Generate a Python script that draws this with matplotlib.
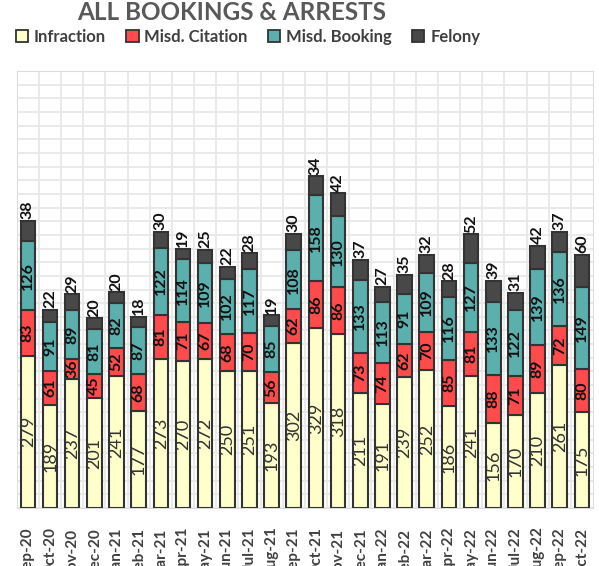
import numpy as np
import matplotlib.pyplot as plt
from matplotlib.patches import Patch

months = ['Sep-20', 'Oct-20', 'Nov-20', 'Dec-20', 'Jan-21', 'Feb-21', 'Mar-21', 'Apr-21',
          'May-21', 'Jun-21', 'Jul-21', 'Aug-21', 'Sep-21', 'Oct-21', 'Nov-21', 'Dec-21',
          'Jan-22', 'Feb-22', 'Mar-22', 'Apr-22', 'May-22', 'Jun-22', 'Jul-22', 'Aug-22',
          'Sep-22', 'Oct-22']
infraction = [279, 189, 237, 201, 241, 177, 273, 270, 272, 250, 251, 193, 302, 329, 318,
              211, 191, 239, 252, 186, 241, 156, 170, 210, 261, 175]
misd_citation = [83, 61, 36, 45, 52, 68, 81, 71, 67, 68, 70, 56, 62, 86, 86, 73, 74, 62,
                 70, 85, 81, 88, 71, 89, 72, 80]
misd_booking = [126, 91, 89, 81, 82, 87, 122, 114, 109, 102, 117, 85, 108, 158, 130, 133,
                113, 91, 109, 116, 127, 133, 122, 139, 136, 149]
felony = [38, 22, 29, 20, 20, 18, 30, 19, 25, 22, 28, 19, 30, 34, 42, 37, 27, 35, 32, 28,
          52, 39, 31, 42, 37, 60]

series = [('Infraction', infraction, '#FFFFCC'),
          ('Misd. Citation', misd_citation, '#FF4B4B'),
          ('Misd. Booking', misd_booking, '#5BAFAC'),
          ('Felony', felony, '#484848')]

plt.rcParams['font.family'] = ['Lato', 'DejaVu Sans']

fig = plt.figure(figsize=(5.99, 5.66), dpi=100)
ax = fig.add_axes([0.028, 0.1025, 0.962, 0.772])

x = np.arange(len(months))
bottom = np.zeros(len(months))
for name, vals, col in series:
    vals = np.array(vals)
    ax.bar(x, vals, 0.66, bottom=bottom, color=col, edgecolor='#333333', linewidth=1.5,
           label=name, zorder=3)
    if name == 'Felony':
        for xi, b, v in zip(x, bottom, vals):
            ax.text(xi, b + v + 3, str(v), rotation=90, ha='center', va='bottom',
                    fontsize=11.5, fontweight='bold', color='#111111', zorder=4)
    elif name == 'Infraction':
        for xi, b, v in zip(x, bottom, vals):
            ax.text(xi, b + v / 2, str(v), rotation=90, ha='center', va='center',
                    fontsize=13, color='#333333', zorder=4)
    else:
        for xi, b, v in zip(x, bottom, vals):
            ax.text(xi, b + v / 2, str(v), rotation=90, ha='center', va='center',
                    fontsize=11.5, fontweight='bold', color='#111111', zorder=4)
    bottom = bottom + vals

ax.set_xlim(-0.5, len(months) - 0.5)
ax.set_ylim(0, 800)
ax.set_yticks(np.arange(0, 801, 25))
ax.set_yticklabels([])
ax.set_xticks(x)
ax.set_xticklabels(months, rotation=90, fontsize=11, fontweight='bold', color='#404040')
ax.set_xticks(x[:-1] + 0.5, minor=True)
ax.tick_params(axis='both', which='both', length=0)
ax.tick_params(axis='x', pad=14)
ax.grid(True, axis='y', color='#e8e8e8', linewidth=1.3, zorder=0)
ax.grid(True, axis='x', which='minor', color='#e8e8e8', linewidth=1.3, zorder=0)
for s in ax.spines.values():
    s.set_color('#dddddd')

fig.text(0.387, 0.978, 'ALL BOOKINGS & ARRESTS', ha='center', va='center', fontsize=17.5,
         fontweight='bold', color='#595959')

handles = [Patch(facecolor=c, edgecolor='#333333', linewidth=1.3) for _, _, c in series]
fig.legend(handles, [n for n, _, _ in series], loc='center', bbox_to_anchor=(0.414, 0.935),
           ncol=4, frameon=False, handlelength=0.75, handleheight=0.75, handletextpad=0.35,
           columnspacing=1.2, prop={'weight': 'bold', 'size': 12}, labelcolor='#404040')

fig.savefig('out.png', dpi=100)
